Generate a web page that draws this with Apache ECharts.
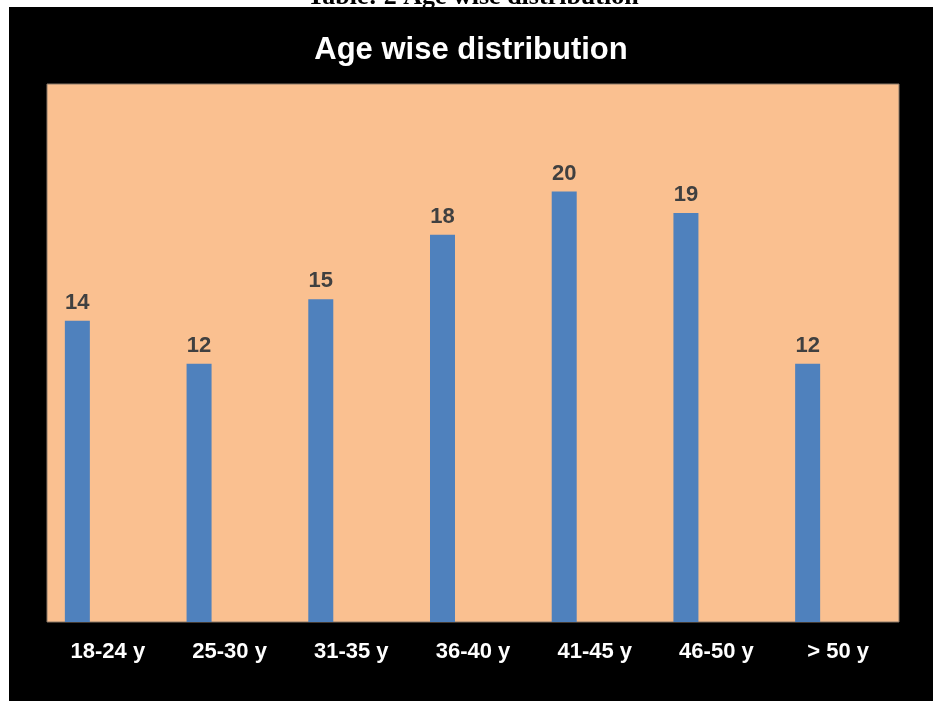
<!DOCTYPE html>
<html>
<head>
<meta charset="utf-8">
<script src="https://cdn.jsdelivr.net/npm/echarts@6/dist/echarts.min.js"></script>
<style>
  html, body { margin: 0; padding: 0; background: #ffffff; }
  #chart { width: 933px; height: 701px; }
</style>
</head>
<body>
<div id="chart"></div>
<script>
const categories = ['18-24 y', '25-30 y', '31-35 y', '36-40 y', '41-45 y', '46-50 y', '> 50 y'];
const values = [14, 12, 15, 18, 20, 19, 12];
const emptySeries = [null, null, null, null, null, null, null];
const chartTitle = 'Age wise distribution';
const captionText = 'Table: 2 Age wise distribution';

const chart = echarts.init(document.getElementById('chart'));
chart.setOption({
  backgroundColor: '#ffffff',
  animation: false,
  graphic: [
    { type: 'text', z: 1, x: 473, y: 10,
      style: { text: captionText, fill: '#000', font: 'bold 26px "Liberation Serif", "Times New Roman", serif', textAlign: 'center', textVerticalAlign: 'bottom' } },
    { type: 'rect', z: 2, shape: { x: 9, y: 7, width: 930, height: 700 }, style: { fill: '#000000' } },
    { type: 'text', z: 3, x: 471, y: 50,
      style: { text: chartTitle, fill: '#ffffff', font: 'bold 31px "Liberation Sans", Arial, sans-serif', textAlign: 'center', textVerticalAlign: 'middle' } }
  ],
  grid: {
    show: true, left: 47, top: 84, right: 34, bottom: 79,
    backgroundColor: '#FAC090', borderColor: '#8a7868', borderWidth: 1, z: 3
  },
  xAxis: {
    type: 'category', data: categories, z: 10,
    axisLine: { show: false }, axisTick: { show: false },
    axisLabel: { color: '#ffffff', fontWeight: 'bold', fontSize: 22, fontFamily: '"Liberation Sans", Arial, sans-serif', margin: 19 }
  },
  yAxis: {
    type: 'value', min: 0, max: 25, interval: 5,
    axisLine: { show: false }, axisTick: { show: false }, axisLabel: { show: false }, splitLine: { show: false }
  },
  series: [
    { type: 'bar', data: values, barWidth: 25, barGap: '144%', z: 4,
      itemStyle: { color: '#4F81BD' },
      label: { show: true, position: 'top', distance: 7, color: '#404040', fontWeight: 'bold', fontSize: 22, fontFamily: '"Liberation Sans", Arial, sans-serif' } },
    { type: 'bar', data: emptySeries, barWidth: 25, z: 4, itemStyle: { color: '#C0504D' } }
  ]
});
</script>
</body>
</html>
